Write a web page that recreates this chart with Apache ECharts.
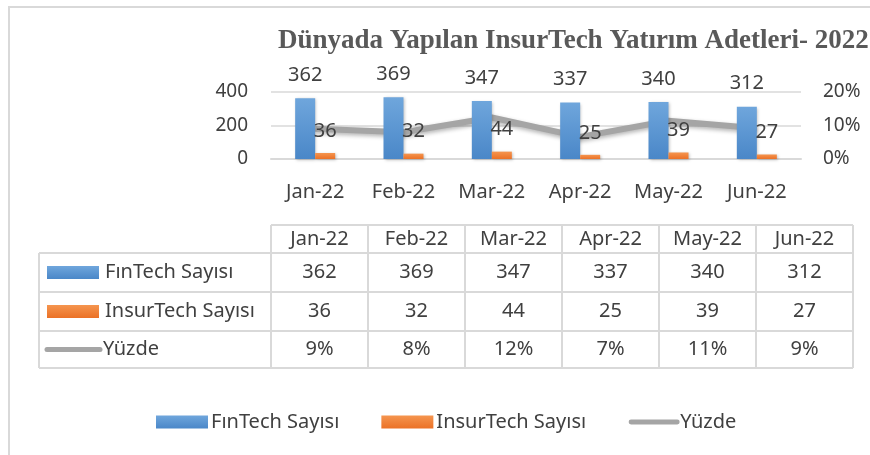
<!DOCTYPE html>
<html>
<head>
<meta charset="utf-8">
<script src="https://cdn.jsdelivr.net/npm/echarts@6/dist/echarts.min.js"></script>
<style>
  html, body { margin: 0; padding: 0; background: #fff; }
  #chart { width: 870px; height: 455px; }
</style>
</head>
<body>
<div id="chart"></div>
<script>
const categories = ["Jan-22", "Feb-22", "Mar-22", "Apr-22", "May-22", "Jun-22"];
const fintech = [362, 369, 347, 337, 340, 312];
const insurtech = [36, 32, 44, 25, 39, 27];
const yuzde = [9, 8, 12.4, 6.6, 11.4, 9.2]; // percent
const seriesNames = ["FınTech Sayısı", "InsurTech Sayısı", "Yüzde"];

const FONT = "'Noto Sans', 'Open Sans', sans-serif";
const TEXT = "#404040";
const BORDER = "#d9d9d9";

function grad(top, bottom) {
  return new echarts.graphic.LinearGradient(0, 0, 0, 1, [
    { offset: 0, color: top },
    { offset: 1, color: bottom },
  ]);
}
const blue = grad("#6fa6dc", "#4a87c8");
const orange = grad("#f5954f", "#eb7126");

// data table under the chart
const tbl = { x0: 39, x1: 271, colW: 97, yHead: 225, rows: [253, 292, 331, 368] };
function buildTable() {
  const els = [];
  const right = tbl.x1 + tbl.colW * categories.length;
  const line = (x1, y1, x2, y2) => ({
    type: "line",
    shape: { x1, y1, x2, y2 },
    style: { stroke: BORDER, lineWidth: 2 },
  });
  els.push(line(tbl.x1, tbl.yHead, right, tbl.yHead));
  tbl.rows.forEach((y) => els.push(line(tbl.x0, y, right, y)));
  els.push(line(tbl.x0, tbl.rows[0], tbl.x0, tbl.rows[3]));
  for (let i = 0; i <= categories.length; i++) {
    const x = tbl.x1 + i * tbl.colW;
    els.push(line(x, tbl.yHead, x, tbl.rows[3]));
  }
  const txt = (x, y, s, align) => ({
    type: "text",
    x,
    y,
    style: {
      text: s,
      fill: TEXT,
      font: "20px " + FONT,
      align: align || "center",
      verticalAlign: "middle",
    },
  });
  categories.forEach((c, i) => {
    const cx = tbl.x1 + (i + 0.5) * tbl.colW;
    els.push(txt(cx, (tbl.yHead + tbl.rows[0]) / 2, c));
    els.push(txt(cx, (tbl.rows[0] + tbl.rows[1]) / 2, String(fintech[i])));
    els.push(txt(cx, (tbl.rows[1] + tbl.rows[2]) / 2, String(insurtech[i])));
    els.push(txt(cx, (tbl.rows[2] + tbl.rows[3]) / 2, Math.round(yuzde[i]) + "%"));
  });
  // row keys
  const keys = [blue, orange];
  keys.forEach((fill, r) => {
    const cy = (tbl.rows[r] + tbl.rows[r + 1]) / 2;
    els.push({ type: "rect", shape: { x: 47, y: cy - 6.5, width: 52, height: 13 }, style: { fill } });
    els.push(txt(105, cy, seriesNames[r], "left"));
  });
  const cy3 = (tbl.rows[2] + tbl.rows[3]) / 2;
  els.push({
    type: "line",
    shape: { x1: 47, y1: cy3, x2: 100, y2: cy3 },
    style: { stroke: "#a5a5a5", lineWidth: 5, lineCap: "round" },
  });
  els.push(txt(103, cy3, seriesNames[2], "left"));
  return els;
}

const chart = echarts.init(document.getElementById("chart"));
chart.setOption({
  animation: false,
  textStyle: { fontFamily: FONT },
  title: {
    text: "Dünyada Yapılan InsurTech Yatırım Adetleri- 2022",
    left: 273,
    top: 23,
    textStyle: {
      fontFamily: "'Liberation Serif', 'DejaVu Serif', serif",
      fontWeight: "bold",
      fontSize: 27,
      color: "#595959",
    },
  },
  legend: {
    left: 151,
    top: 407,
    itemWidth: 52,
    itemHeight: 13,
    itemGap: 42,
    textStyle: { fontSize: 20, color: TEXT, padding: [0, 0, 0, -2] },
    data: [
      { name: seriesNames[0], icon: "rect" },
      { name: seriesNames[1], icon: "rect" },
      {
        name: seriesNames[2],
        icon: "path://M0,0 M3,4 L51,4 A2.5,2.5 0 0 1 51,9 L3,9 A2.5,2.5 0 0 1 3,4 Z M54,13",
        textStyle: { padding: [0, 0, 0, -5] },
      },
    ],
  },
  grid: { left: 271, right: 69, top: 92, bottom: 296 },
  xAxis: {
    type: "category",
    data: categories,
    axisLine: { lineStyle: { color: BORDER, width: 2 } },
    axisTick: { length: 7, lineStyle: { color: BORDER, width: 2 } },
    axisLabel: { fontSize: 20, color: TEXT, margin: 23, interval: 0 },
  },
  yAxis: [
    {
      type: "value",
      min: 0,
      max: 400,
      interval: 200,
      axisLine: { show: false },
      axisTick: { show: false },
      axisLabel: { fontSize: 19, color: TEXT, margin: 23 },
      splitLine: { lineStyle: { color: BORDER, width: 1.5 } },
    },
    {
      type: "value",
      min: 0,
      max: 20,
      interval: 10,
      axisLine: { show: false },
      axisTick: { show: false },
      axisLabel: { fontSize: 19, color: TEXT, margin: 22, formatter: "{value}%" },
      splitLine: { show: false },
    },
  ],
  series: [
    {
      name: seriesNames[0],
      type: "bar",
      data: fintech,
      barWidth: 20,
      barGap: "0%",
      itemStyle: { color: blue, shadowBlur: 3, shadowColor: "rgba(0,0,0,0.25)", shadowOffsetX: 1, shadowOffsetY: 1 },
      label: { show: true, position: "top", distance: 13, fontSize: 20, color: TEXT },
    },
    {
      name: seriesNames[1],
      type: "bar",
      data: insurtech,
      barWidth: 20,
      itemStyle: { color: orange, shadowBlur: 3, shadowColor: "rgba(0,0,0,0.25)", shadowOffsetX: 1, shadowOffsetY: 1 },
      label: { show: true, position: "top", distance: 12, fontSize: 20, color: TEXT },
    },
    {
      name: seriesNames[2],
      type: "line",
      yAxisIndex: 1,
      data: yuzde,
      symbol: "none",
      z: 1,
      color: "#a5a5a5",
      lineStyle: {
        width: 6,
        color: "#a5a5a5",
        shadowBlur: 4,
        shadowColor: "rgba(0,0,0,0.3)",
        shadowOffsetY: 2,
      },
      itemStyle: { color: "#a5a5a5" },
    },
  ],
  graphic: [
    {
      type: "rect",
      shape: { x: 9, y: 7, width: 900, height: 500 },
      style: { fill: "none", stroke: BORDER, lineWidth: 2 },
      silent: true,
    },
    ...buildTable(),
  ],
});
</script>
</body>
</html>
